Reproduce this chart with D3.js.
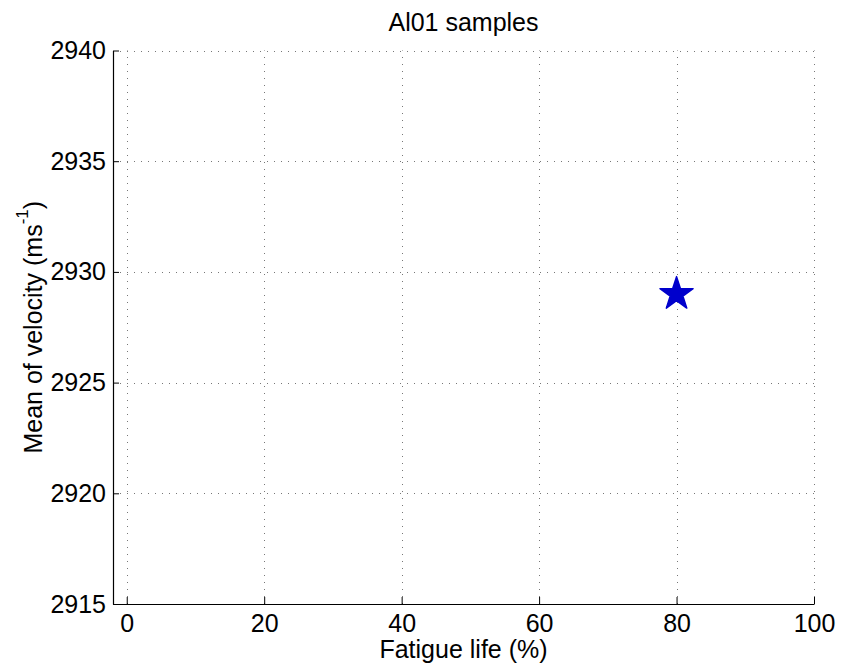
<!DOCTYPE html>
<html>
<head>
<meta charset="utf-8">
<script src="https://cdn.jsdelivr.net/npm/d3@7"></script>
<style>
  html, body { margin: 0; padding: 0; background: #fff; }
  svg { display: block; }
  text { font-family: "Liberation Sans", Arial, Helvetica, sans-serif; fill: #000; }
</style>
</head>
<body>
<svg id="chart" width="841" height="670"></svg>
<script>
// ---- data ----
const fatigueLife = [80];          // x values (%)
const meanVelocity = [2929];       // y values (m/s)
const xTicks = [0, 20, 40, 60, 80, 100];
const yTicks = [2915, 2920, 2925, 2930, 2935, 2940];
const titleText = "Al01 samples";
const xLabelText = "Fatigue life (%)";

// ---- layout ----
const FS = 25;
const plot = { left: 113, top: 50.5, right: 814, bottom: 604 };
const svg = d3.select("#chart");

const x = d3.scaleLinear().domain([-2, 100]).range([plot.left, plot.right]);
const y = d3.scaleLinear().domain([2915, 2940]).range([plot.bottom, plot.top]);

// grid lines (dotted)
const grid = svg.append("g").attr("class", "grid")
  .attr("stroke", "#777").attr("stroke-width", 1).attr("stroke-dasharray", "1,6");
grid.selectAll("line.v").data(xTicks).join("line").attr("class", "v")
  .attr("x1", d => Math.round(x(d)) + 0.5).attr("x2", d => Math.round(x(d)) + 0.5)
  .attr("y1", plot.bottom).attr("y2", plot.top);
grid.selectAll("line.h").data(yTicks.filter(d => d !== 2915)).join("line").attr("class", "h")
  .attr("y1", d => Math.round(y(d)) + 0.5).attr("y2", d => Math.round(y(d)) + 0.5)
  .attr("x1", plot.left).attr("x2", plot.right);

// axes
const xAxis = d3.axisBottom(x).tickValues(xTicks).tickFormat(d3.format("d"))
  .tickSizeInner(-7).tickSizeOuter(0).tickPadding(10);
const gx = svg.append("g").attr("transform", `translate(0,${plot.bottom})`).call(xAxis);
gx.attr("font-size", FS).attr("font-family", "Liberation Sans, Arial, sans-serif");
gx.select(".domain").attr("stroke", "#000").attr("stroke-width", 1.2);
gx.selectAll(".tick line").attr("stroke", "#000");
gx.selectAll(".tick text").attr("font-size", FS).attr("fill", "#000");

const yAxis = d3.axisLeft(y).tickValues(yTicks).tickFormat(d3.format("d"))
  .tickSizeInner(-6).tickSizeOuter(0).tickPadding(7);
const gy = svg.append("g").attr("transform", `translate(${plot.left},0)`).call(yAxis);
gy.attr("font-size", FS).attr("font-family", "Liberation Sans, Arial, sans-serif");
gy.select(".domain").attr("stroke", "#000").attr("stroke-width", 1.2);
gy.selectAll(".tick line").attr("stroke", "#000");
gy.selectAll(".tick text").attr("font-size", FS).attr("fill", "#000");

// marker
const star = d3.symbol().type(d3.symbolStar).size(340);
svg.append("g").selectAll("path").data(fatigueLife.map((v, i) => [v, meanVelocity[i]])).join("path")
  .attr("d", star)
  .attr("transform", d => `translate(${x(d[0])},${y(d[1])})`)
  .attr("fill", "#0000cc").attr("stroke", "#0000cc").attr("stroke-width", 1.5)
  .attr("stroke-linejoin", "round");

// title
svg.append("text").attr("x", (plot.left + plot.right) / 2).attr("y", 31)
  .attr("text-anchor", "middle").attr("font-size", FS).text(titleText);

// x label
svg.append("text").attr("x", (plot.left + plot.right) / 2).attr("y", 658)
  .attr("text-anchor", "middle").attr("font-size", FS).text(xLabelText);

// y label
const yl = svg.append("text").attr("transform", `translate(42,${(plot.top + plot.bottom) / 2}) rotate(-90)`)
  .attr("text-anchor", "middle").attr("font-size", FS);
yl.append("tspan").text("Mean of velocity (ms");
yl.append("tspan").attr("font-size", 17).attr("dy", -14).text("-1");
yl.append("tspan").attr("dy", 14).text(")");
</script>
</body>
</html>
